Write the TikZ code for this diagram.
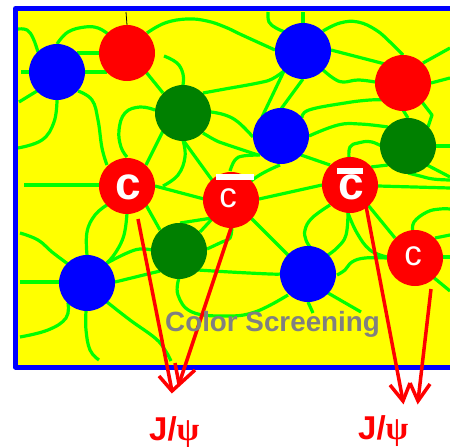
\documentclass[tikz,border=0pt]{standalone}
\usepackage{fontspec}
\setmainfont{Liberation Sans}
\newfontfamily\serifgreek{Liberation Serif}
\usetikzlibrary{backgrounds}
\definecolor{tube}{RGB}{0,255,0}
\definecolor{gluon}{RGB}{0,128,0}
\definecolor{plasma}{RGB}{255,255,0}
\definecolor{quarkred}{RGB}{255,0,0}
\definecolor{quarkblue}{RGB}{0,0,255}
\definecolor{caption}{RGB}{128,128,128}
\tikzset{
  x=1pt,y=-1pt,
  ball/.style={circle,minimum size=56pt,inner sep=0pt,text=white},
  redball/.style={ball,fill=quarkred},
  blueball/.style={ball,fill=quarkblue},
  greenball/.style={ball,fill=gluon},
  wire/.style={draw=tube,line width=3.2pt},
  ray/.style={draw=quarkred,line width=3.5pt},
  barb/.style={draw=quarkred,line width=3.5pt,line join=miter},
  overbar/.style={fill=white,draw=none},
  psilabel/.style={text=quarkred,inner sep=0pt,anchor=base west},
  charmtext/.style={text=white,inner sep=0pt}
}
\newcommand{\curve}[1]{\draw[wire] plot[smooth,tension=0.7] coordinates {#1};}
\newcommand{\thincharm}{\fontsize{35}{36}\selectfont c}
\newcommand{\boldcharm}{\fontsize{46}{48}\selectfont\bfseries c}
\newcommand{\jpsi}{\fontsize{33}{35}\selectfont\bfseries J/{\serifgreek ψ}}
\begin{document}
\begin{tikzpicture}
\useasboundingbox (0,0) rectangle (450,447);

% quarks and gluons
\node[blueball]  (blueA)  at (57,72)   {};
\node[redball]   (redA)   at (127,53)  {};
\node[greenball] (greenA) at (183,113) {};
\node[blueball]  (blueB)  at (303,51)  {};
\node[redball]   (redB)   at (403,83)  {};
\node[blueball]  (blueC)  at (281,136) {};
\node[greenball] (greenB) at (408,146) {};
\node[redball]   (charmA) at (127,186) {};
\node[redball]   (anticharmA) at (231,200) {};
\node[redball]   (anticharmB) at (350,185) {};
\node[greenball] (greenC) at (179,251) {};
\node[blueball]  (blueD)  at (87,283)  {};
\node[blueball]  (blueE)  at (308,274) {};
\node[redball]   (charmB) at (415,258) {};

% quark flavours
\node[charmtext] (labelA) at (128.5,187.5) {\boldcharm};
\node[charmtext] (labelB) at (228,198) {\thincharm};
\node[charmtext] (labelC) at (351,187.5) {\boldcharm};
\node[charmtext] (labelD) at (413,256) {\thincharm};

% bars over the anticharm quarks
\fill[overbar] (216,174) rectangle (254,180);
\fill[overbar] (337,168) rectangle (363,174);

\begin{scope}[on background layer]
  \fill[plasma] (15,8) rectangle (450,367);

  % flux tubes, upper left
  \curve{(18,29) (27,30) (33,38) (38,52)}
  \curve{(57,44) (68,32) (85,27) (98,28) (108,34)}
  \draw[wire] (77,53) -- (100,53);
  \draw[wire] (85,72) -- (107,72);
  \draw[wire] (21,72) -- (30,72);
  \draw[wire] (19,102) -- (37,91);
  \curve{(57,100) (54,122) (42,140) (18,148)}
  \curve{(78,91) (92,100) (98,120) (102,148) (107,165)}
  \draw[wire] (24,185) -- (100,185);
  \draw[wire] (146,72) -- (163,93);
  \curve{(164,56) (177,63) (183,74) (183,85)}
  \curve{(147,33) (165,23) (187,19) (207,21) (225,27) (242,35) (275,50)}
  \curve{(203,93) (225,89) (258,83) (272,79) (284,71)}
  \curve{(211,112) (225,115) (238,122) (253,137)}
  \curve{(203,133) (215,140) (225,144) (258,155)}
  \curve{(260,155) (243,156) (235,160) (230,171)}
  \curve{(155,110) (140,107) (125,113) (119,130) (121,147) (127,157)}
  \draw[wire] (163,131) -- (146,165);
  \curve{(183,140) (185,157) (178,175) (163,186)}
  \draw[wire] (183,140) -- (212,180);
  \draw[wire] (155,186) -- (204,199);

  % flux tubes, upper right
  \curve{(268,12) (269,22) (276,28) (285,32)}
  \draw[wire] (303,12) -- (303,24);
  \curve{(323,31) (340,23) (358,22) (376,30) (390,42) (403,55)}
  \draw[wire] (331,50) -- (385,64);
  \curve{(322,69) (333,78) (343,82) (358,80) (375,82)}
  \draw[wire] (284,71) -- (262,117);
  \draw[wire] (303,79) -- (281,109);
  \curve{(302,118) (309,110) (345,103) (370,100) (385,100)}
  \curve{(309,136) (338,125) (360,124) (388,127)}
  \draw[wire] (301,155) -- (330,165);
  \curve{(231,200) (255,178) (280,165)}
  \draw[wire] (259,199) -- (322,185);
  \draw[wire] (423,63) -- (450,48);
  \draw[wire] (431,83) -- (450,78);
  \draw[wire] (403,110) -- (408,118);
  \draw[wire,line join=round] (422,102) -- (432,115) -- (428,127);
  \draw[wire] (436,146) -- (450,146);
  \draw[wire] (427,165) -- (450,177);
  \curve{(408,173) (420,176) (433,179) (450,180)}
  \draw[wire] (371,167) -- (388,165);
  \curve{(349,158) (350,147) (358,143) (372,142) (388,150)}
  \draw[wire] (378,186) -- (450,188);

  % flux tubes, lower right
  \curve{(413,232) (414,222) (427,212) (440,209) (450,209)}
  \curve{(348,213) (346,235) (338,247) (328,255)}
  \curve{(348,213) (357,233) (370,250) (387,257)}
  \curve{(330,205) (312,218) (305,230) (306,240) (310,247)}
  \draw[wire] (368,205) -- (395,238);
  \draw[wire] (435,238) -- (450,235);
  \draw[wire] (443,257) -- (450,257);
  \draw[wire] (433,277) -- (450,291);
  \curve{(337,275) (345,270) (352,262) (365,258) (387,258)}
  \draw[wire] (251,218) -- (288,255);
  \curve{(179,278) (178,295) (192,312) (225,316) (255,312) (288,295)}
  \draw[wire] (328,293) -- (361,312);
  \draw[wire] (308,302) -- (313,313);

  % flux tubes, lower left
  \curve{(127,213) (124,235) (116,252) (107,263)}
  \draw[wire] (146,205) -- (160,230);
  \curve{(107,205) (95,215) (87,232) (87,255)}
  \curve{(107,263) (127,253) (140,249) (152,250)}
  \draw[wire] (115,282) -- (160,271);
  \curve{(20,233) (38,240) (52,252) (68,264)}
  \draw[wire] (20,282) -- (59,282);
  \curve{(68,303) (66,318) (48,330) (20,337)}
  \curve{(86,311) (86,330) (90,350) (99,360)}
  \curve{(107,302) (130,320) (155,338) (165,350) (171,361)}
  \curve{(207,249) (222,242) (230,238) (232,225)}
  \curve{(198,270) (230,272) (270,274) (280,274)}
  \draw[wire] (180,223) -- (212,218);
  \draw[wire] (200,232) -- (212,219);

  % short lead above the top red quark
  \draw[black,line width=0.8pt] (126,12) -- (127,25);

  % frame, open on the right
  \draw[quarkblue,line width=5pt,line join=round]
    (450,8.5) -- (15.5,8.5) -- (15.5,367) -- (450,367);
\end{scope}

% decay paths: charm and anticharm pair up into a J/psi
\coordinate (startA) at (138,219);
\coordinate (tipA)   at (172,391);
\coordinate (barbAl) at (159,376);
\coordinate (barbAr) at (195,370);
\coordinate (startB) at (232,225);
\coordinate (tipB)   at (179,384);
\coordinate (barbBl) at (175,363);
\coordinate (startC) at (366,206);
\coordinate (tipC)   at (403,401);
\coordinate (barbCl) at (390,385);
\coordinate (barbMid) at (410,383);
\coordinate (startD) at (431,289);
\coordinate (tipD)   at (418,401);
\coordinate (barbDr) at (430,384);

\draw[ray] (startA) -- (tipA);
\draw[barb] (barbAl) -- (tipA) -- (barbAr);
\draw[ray] (startB) -- (tipB);
\draw[barb] (barbBl) -- (tipB);
\draw[ray] (startC) -- (tipC);
\draw[barb] (barbCl) -- (tipC) -- (barbMid);
\draw[ray] (startD) -- (tipD);
\draw[barb] (barbMid) -- (tipD) -- (barbDr);

% labels
\node[text=caption,inner sep=0pt,anchor=base west,font=\fontsize{27.8}{30}\selectfont\bfseries]
  (screening) at (165,331) {Color Screening};
\node[psilabel] (jpsiA) at (149,440) {\jpsi};
\node[psilabel] (jpsiB) at (358,439.5) {\jpsi};
\end{tikzpicture}
\end{document}
